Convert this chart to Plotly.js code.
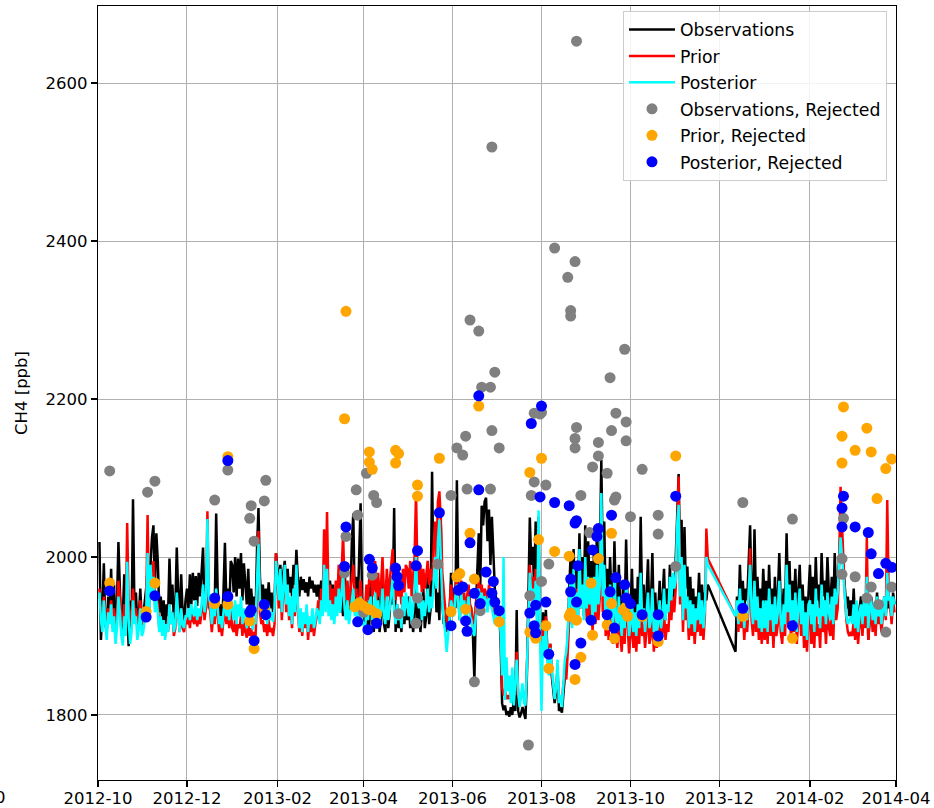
<!DOCTYPE html>
<html>
<head>
<meta charset="utf-8">
<script src="https://cdn.plot.ly/plotly-3.0.1.min.js"></script>
<style>html,body{margin:0;padding:0;background:#fff;}#chart{width:934px;height:808px;}</style>
</head>
<body>
<div id="chart"></div>
<script>
// Months covered; each row of the series tables below holds daily values (day 1, 2, ...) for that month.
const months = ['2012-10','2012-11','2012-12','2013-01','2013-02','2013-03','2013-04','2013-05','2013-06',
  '2013-07','2013-08','2013-09','2013-10','2013-11','2013-12','2014-01','2014-02','2014-03'];

const obsDaily = [
  [null,2019,1895,1930,1992,1915,1905,1950,1930,1985,1910,1965,1900,1940,2019,1960,1905,1925,1978,1900,1935,1887,1945,1910,2073,1930,1955,1915,1925,1960,1920],
  [1925,1940,1960,1985,1945,1990,2025,2040,1960,2030,1995,1930,1950,1920,1945,1910,1940,1925,1998,1940,1965,1920,1935,2012,1950,1925,1978,1930,1920,1945],
  [1960,1935,1978,1940,1980,1945,1976,1938,1980,1950,1975,2012,1930,1960,1995,1935,1945,1920,1950,1935,2055,1960,1925,1940,1915,1955,2018,1940,1960,1930,1995],
  [1990,1955,2000,1950,1998,1960,2005,1945,1992,1970,1940,1985,1930,1960,1935,1950,1925,2010,2062,1975,1945,1965,1935,1960,1940,1968,1935,1955,1930,1945,2005],
  [1985,1960,1990,1950,1980,1995,1960,1985,1955,1975,1950,1990,1965,2009,1970,1950,1975,1958,1972,1955,1968,1950,1975,1960,1970,1955,1965,1950],
  [1965,1945,1970,1950,1975,1955,1985,1945,1970,1950,1965,1940,1960,1935,1958,1930,1950,1925,1990,1935,1960,1920,1945,2020,2055,1940,1975,1930,2000,2068,1950],
  [1930,1910,1945,1905,1915,1985,1920,1905,1935,1910,1960,1905,1925,1990,1915,1905,1950,1910,1930,1975,1940,2062,1905,1940,1910,1925,1905,1950,1915,1935],
  [1920,1950,1910,1935,1905,1925,1985,1915,1940,1905,1930,1960,1910,1925,1975,1915,1935,2108,1960,2000,1930,1955,1920,2040,1945,1915,1925,1905,1935,1920,1980],
  [1925,1960,1935,2097,1950,1920,1965,1930,1950,1915,1940,1960,1935,1925,1900,1845,1935,1985,2030,1960,2065,2040,2070,2075,2020,2060,1990,2051,2010,1960],
  [1945,1920,1935,1890,1815,1806,1812,1800,1805,1798,1810,1800,1820,1805,1933,1805,1797,1802,1810,1800,1795,1850,1950,2050,1990,2013,1960,2045,1930,2051,1900],
  [1870,1930,1900,1933,1880,1855,1890,1850,1830,1815,1828,1860,1805,1810,1803,1825,1850,1880,1895,1960,2003,1920,2010,1950,1995,1940,2030,1960,2000,1950,2040],
  [1950,2020,1960,1995,1930,2010,1945,2035,1960,2000,2123,1990,2045,1940,1985,1935,2000,1950,1930,2020,1945,1920,1990,1935,1915,1970,1925,2022,1940,1910],
  [1930,1985,1915,1960,1905,1975,1920,2051,1935,1965,1910,1950,1997,1920,1940,2005,1915,1955,1905,1930,1970,1915,1945,1985,1920,1960,1930,1990,1940,1975,1945],
  [2000,2060,2105,1985,2047,1940,2038,1960,1988,1930,1975,1920,1960,1915,1950,1935,1980,1925,1965,1930,1955,1945,1965],
  [null,null,null,null,null,null,null,null,null,null,null,1880,1950,1925,1990,1940,1970,1930,1960,1945,1985,2040,1950,1930,2035,1945,1975,1935,1960,1930,1985],
  [1940,1970,1925,1990,1935,1960,1920,1975,1930,1950,2005,1940,1925,1960,1935,2030,1950,1995,1930,1970,1940,1985,1925,1955,1990,1935,1965,1920,1950,1915,1960],
  [1990,1940,1975,1925,2000,1945,1965,1930,2005,1950,1970,1935,2000,1955,1940,1975,1930,2005,1950,1960,1990,2034,2010,1985,1960,1935,1950,1925],
  [1945,1920,1960,1915,1940,1905,1935,1950,1915,1945,1925,1960,1895,1930,1950,1920,1940,1910,1955,1925,1945,1915,1935,1950,1925,1960,1935,1945,1920,1955,1940]
];

const priorDaily = [
  [null,1960,1930,1925,1950,1930,1915,1935,1925,1945,1920,1935,1910,1925,1970,1950,1920,1915,1940,1915,2043,1940,1915,1925,1960,1930,1935,1915,1920,1945,1915],
  [1915,1925,1935,2053,1930,1985,1960,1995,1940,1950,1940,1910,1925,1905,1920,1900,1915,1905,1940,1915,1930,1900,1910,1950,1925,1905,1935,1910,1905,1920],
  [1915,1925,1910,1930,1920,1915,1935,1912,1925,1915,1930,1960,1920,1935,2058,1940,1930,1905,1925,1915,1950,1930,1905,1915,1900,1920,1935,1915,1930,1910,1935],
  [1910,1905,1920,1900,1915,1910,1925,1900,1920,1905,1898,1915,1900,1910,1895,1905,1900,1950,2033,1930,1915,1920,1905,1915,1900,1920,1905,1910,1900,1915,2005],
  [1965,1935,1975,1920,1955,1980,1930,1960,1920,1945,1910,1955,1925,1985,1935,1905,1930,1900,1925,1910,1935,1895,1920,1905,1930,1900,1915,1925],
  [1945,1925,1960,1940,2035,1950,2057,1945,1965,1940,1960,1935,1970,1945,1990,1950,1980,2030,1960,1945,1970,1940,1955,1975,1990,1950,1960,1935,1945,1970,1940],
  [1940,1930,1965,1945,1975,1990,1950,1960,1995,1940,1980,1950,1965,2000,1955,1945,1985,1950,1970,1990,2010,1960,1945,1975,1950,1965,1940,1985,1955,1990],
  [1985,1960,1995,1950,1970,2000,2081,1975,1965,1990,1955,1985,1960,1975,1995,1965,1985,1970,2010,2045,2000,2070,2083,2047,1980,1950,1935,1920,1910,1940,1965],
  [1945,1935,1960,1975,1950,1935,1970,1945,1955,1925,1950,1965,1940,1935,1920,1915,1940,1955,1970,1950,1965,1945,1960,1955,1940,1965,1950,1945,1935,1925],
  [1940,1930,1935,1910,1835,1825,1830,1820,1825,1820,1830,1822,1835,1825,1880,1825,1818,1822,1830,1820,1815,1860,1930,1990,1960,1975,1940,1985,1920,2010,1900],
  [1880,1920,1895,1925,1880,1860,1890,1855,1840,1825,1835,1850,1820,1825,1815,1840,1850,1845,1880,1930,1960,1915,1975,1935,1960,1920,1990,1935,1960,1925,1990],
  [1920,1960,1925,1950,1905,1960,1915,1970,1920,1950,2050,1930,1975,1900,1940,1895,1950,1910,1890,1965,1905,1885,1930,1900,1880,1920,1890,1955,1905,1878],
  [1900,1925,1885,1910,1880,1920,1890,1955,1900,1915,1885,1905,1930,1890,1900,1935,1880,1910,1885,1895,1920,1890,1905,1930,1895,1915,1905,1945,1920,1950,1930],
  [1960,2050,2102,1940,1990,1905,1970,1920,1935,1895,1930,1900,1925,1890,1920,1905,1940,1900,1930,1895,1925,2036,1998],
  [null,null,null,null,null,null,null,null,null,null,null,1925,1935,1905,1950,1910,1930,1895,1925,1905,1940,2011,1920,1900,1960,1905,1935,1895,1920,1890,1935],
  [1895,1930,1890,1950,1900,1925,1885,1935,1900,1915,1960,1905,1890,1925,1900,1980,1915,1955,1895,1930,1905,1945,1890,1920,1950,1900,1930,1885,1915,1880,1925],
  [1925,1890,1920,1885,1940,1900,1915,1885,1945,1905,1925,1890,1935,1910,1900,1930,1895,1950,1920,1935,1990,2089,2040,1985,1950,1920,1905,1900],
  [1905,1900,1920,1895,1935,1890,1915,1925,1900,1930,1910,2025,1895,1920,1935,1905,1930,1900,1940,1915,1930,1905,1925,1945,1920,2072,1950,1940,1915,1945,1930]
];

const postDaily = [
  [null,1955,1920,1905,1945,1915,1895,1930,1915,1940,1905,1925,1890,1910,1950,1930,1900,1888,1925,1900,1994,1920,1890,1905,1945,1915,1925,1895,1910,1935,1900],
  [1905,1920,1925,2005,1920,1990,1955,1975,1930,1945,1930,1905,1925,1900,1920,1895,1915,1905,1940,1915,1930,1905,1915,1955,1925,1905,1935,1915,1910,1925],
  [1925,1935,1920,1940,1930,1925,1945,1920,1935,1925,1940,1965,1930,1945,2048,1950,1940,1915,1935,1925,1960,1940,1915,1925,1910,1930,1945,1925,1940,1920,1950],
  [1935,1920,1945,1915,1940,1925,1950,1915,1935,1920,1910,1930,1915,1925,1908,1920,1915,1970,2017,1945,1930,1940,1920,1935,1915,1940,1920,1930,1918,1935,1995],
  [1975,1945,1985,1930,1960,1990,1940,1965,1925,1950,1915,1960,1930,1990,1940,1910,1935,1905,1930,1915,1940,1905,1925,1915,1935,1910,1920,1935],
  [1930,1915,1945,1925,1990,1930,1985,1925,1945,1920,1940,1915,1950,1925,1960,1930,1955,1980,1935,1920,1945,1915,1930,1950,1960,1925,1940,1915,1925,1950,1920],
  [1915,1905,1935,1920,1940,1950,1920,1930,1955,1910,1945,1920,1930,1960,1925,1915,1950,1920,1935,1955,1975,1930,1915,1940,1920,1935,1910,1950,1925,1955],
  [1940,1925,1950,1915,1935,1960,2000,1945,1935,1955,1920,1945,1925,1940,1960,1930,1950,1935,1975,2000,1960,2020,2047,1990,1945,1920,1905,1880,1900,1920,1945],
  [1935,1925,1950,1965,1940,1920,1955,1930,1945,1915,1935,1950,1925,1920,1905,1900,1925,1945,1960,1940,1955,1935,1950,1945,1930,1955,1940,1935,1925,1915],
  [1930,1920,1925,1905,1850,2000,1819,1873,1830,1850,1815,1860,1812,1840,1870,1830,1810,1825,1840,1815,1812,1860,1920,1980,1950,1960,1930,1970,1915,2059,1900],
  [1805,1900,1880,1915,1870,1850,1885,1860,1840,1820,1835,1870,1815,1825,1810,1835,1870,1880,1905,1950,1970,1910,1985,1930,1955,1915,2010,1935,1965,1920,2000],
  [1935,1975,1940,1965,1920,1975,1930,1990,1940,1965,2081,1950,1990,1915,1955,1910,1965,1930,1910,1980,1925,1905,1950,1920,1900,1940,1910,1970,1925,1900],
  [1915,1945,1905,1930,1900,1940,1910,1980,1920,1935,1905,1925,1955,1910,1920,1960,1905,1930,1905,1915,1945,1910,1925,1960,1920,1940,1930,1975,1945,1980,1960],
  [1970,2040,2066,1950,2000,1920,1990,1935,1950,1910,1945,1915,1940,1905,1935,1920,1955,1915,1945,1910,1935,2000,1990],
  [null,null,null,null,null,null,null,null,null,null,null,1925,1945,1915,1960,1925,1945,1910,1940,1920,1955,1990,1935,1915,1970,1920,1950,1910,1935,1905,1945],
  [1910,1945,1905,1960,1920,1940,1905,1950,1915,1930,1970,1920,1905,1940,1915,1990,1930,1965,1910,1945,1920,1955,1905,1935,1960,1915,1945,1900,1930,1895,1940],
  [1945,1915,1940,1905,1960,1925,1935,1910,1965,1925,1945,1915,1955,1930,1920,1950,1915,1960,1940,1955,1990,2025,2000,1970,1945,1925,1915,1920],
  [1925,1915,1940,1910,1945,1905,1930,1940,1915,1945,1925,1975,1910,1935,1945,1920,1940,1915,1950,1925,1940,1915,1935,1950,1925,1980,1945,1950,1925,1950,1940]
];

// Rejected points
const obsRejDates = ['2012-10-09','2012-11-04','2012-11-09','2012-12-20','2012-12-29','2013-01-13','2013-01-14','2013-01-16','2013-01-23','2013-01-24',
  '2013-03-19','2013-03-20','2013-03-27','2013-03-28','2013-04-01','2013-04-03','2013-04-07','2013-04-08','2013-04-10','2013-04-25',
  '2013-05-07','2013-05-08','2013-05-22','2013-05-31','2013-06-04','2013-06-08','2013-06-10','2013-06-11','2013-06-13','2013-06-16',
  '2013-06-19','2013-06-20','2013-06-21','2013-06-27','2013-06-27','2013-06-28','2013-06-28','2013-06-30','2013-07-03','2013-07-23',
  '2013-07-24','2013-07-25','2013-07-27','2013-07-27','2013-07-31','2013-08-01','2013-08-01','2013-08-04','2013-08-06','2013-08-10',
  '2013-08-19','2013-08-21','2013-08-21','2013-08-24','2013-08-24','2013-08-24','2013-08-25','2013-08-25','2013-08-28','2013-09-03',
  '2013-09-05','2013-09-09','2013-09-09','2013-09-15','2013-09-17','2013-09-18','2013-09-20','2013-09-21','2013-09-21','2013-09-27',
  '2013-09-28','2013-09-28','2013-10-01','2013-10-09','2013-10-20','2013-10-20','2013-11-01','2013-12-17','2014-01-20','2014-02-23',
  '2014-02-23','2014-02-24','2014-03-04','2014-03-12','2014-03-15','2014-03-20','2014-03-25','2014-03-29'];
const obsRejValues = [2109,2082,2096,2072,2110,2049,2065,2020,2071,2097,
  1980,2026,2085,2053,1930,2106,1977,2078,2069,1928,
  1916,1948,1991,2078,2138,2129,2153,2086,2300,1842,
  2286,1932,2215,2215,2086,2160,2519,2234,2138,1762,
  1951,2078,2182,2095,2181,2183,1969,2091,1991,2391,
  2354,2312,2305,2374,2150,2138,2164,2653,2078,2031,
  2114,2128,2145,2106,2227,2160,2072,2076,2182,2263,
  2171,2147,2051,2111,2053,2029,1988,2069,2048,1978,
  1998,2049,1975,1948,1962,1940,1905,1962];

const priorRejDates = ['2012-10-09','2012-11-03','2012-11-09','2012-12-20','2012-12-29','2012-12-29','2013-01-13','2013-01-16','2013-01-23','2013-03-19',
  '2013-03-20','2013-03-26','2013-03-29','2013-04-01','2013-04-04','2013-04-05','2013-04-05','2013-04-06','2013-04-07','2013-04-10',
  '2013-04-23','2013-04-23','2013-04-25','2013-05-08','2013-05-08','2013-05-23','2013-05-31','2013-06-04','2013-06-06','2013-06-10',
  '2013-06-13','2013-06-16','2013-06-19','2013-07-03','2013-07-24','2013-07-24','2013-07-28','2013-07-30','2013-08-01','2013-08-04',
  '2013-08-06','2013-08-10','2013-08-20','2013-08-20','2013-08-21','2013-08-24','2013-08-25','2013-08-28','2013-09-04','2013-09-05',
  '2013-09-09','2013-09-15','2013-09-18','2013-09-18','2013-09-20','2013-09-26','2013-09-28','2013-09-29','2013-10-09','2013-10-20',
  '2013-11-01','2013-12-17','2014-01-20','2014-02-23','2014-02-23','2014-02-24','2014-03-04','2014-03-12','2014-03-15','2014-03-19',
  '2014-03-25','2014-03-29'];
const priorRejValues = [1967,1931,1967,1941,1940,2127,1919,1884,1935,2175,
  2311,1937,1942,1938,1934,2133,2120,1933,2111,1928,
  2135,2119,2131,2091,2077,2125,1931,1975,1979,1934,
  2030,1972,2191,1918,2107,1905,1897,2022,2125,1913,
  1859,2007,2001,1925,1929,1845,1920,1873,1967,1901,
  1998,1914,2030,1941,1897,1933,1937,1925,1925,1893,
  2128,1925,1897,2119,2153,2190,2135,2163,2133,2074,
  2112,2124];

const postRejDates = ['2012-10-09','2012-11-03','2012-11-09','2012-12-20','2012-12-29','2012-12-29','2013-01-13','2013-01-14','2013-01-16','2013-01-23',
  '2013-01-24','2013-03-19','2013-03-20','2013-03-28','2013-04-04','2013-04-05','2013-04-07','2013-04-10','2013-04-23','2013-04-24',
  '2013-04-25','2013-05-07','2013-05-08','2013-05-23','2013-05-31','2013-06-05','2013-06-08','2013-06-10','2013-06-11','2013-06-13',
  '2013-06-16','2013-06-19','2013-06-19','2013-06-20','2013-06-24','2013-06-28','2013-06-29','2013-06-30','2013-07-03','2013-07-24',
  '2013-07-25','2013-07-27','2013-07-28','2013-07-28','2013-07-31','2013-08-01','2013-08-04','2013-08-06','2013-08-10','2013-08-20',
  '2013-08-21','2013-08-21','2013-08-24','2013-08-24','2013-08-25','2013-08-25','2013-08-26','2013-08-28','2013-09-04','2013-09-05',
  '2013-09-08','2013-09-09','2013-09-15','2013-09-17','2013-09-18','2013-09-20','2013-09-21','2013-09-27','2013-09-28','2013-10-01',
  '2013-10-09','2013-10-20','2013-10-20','2013-11-01','2013-12-17','2014-01-20','2014-02-23','2014-02-23','2014-02-24','2014-03-04',
  '2014-03-13','2014-03-15','2014-03-20','2014-03-25','2014-03-29'];
const postRejValues = [1957,1924,1951,1948,1950,2122,1930,1933,1894,1940,
  1927,1988,2038,1918,1908,1997,1986,1916,1986,1975,
  1964,1989,2008,2056,1913,1958,1962,1919,1906,2018,
  1954,2204,2085,1941,1981,1954,1969,1943,1932,1929,
  2169,1913,1904,1939,2076,2191,1943,1877,2069,2065,
  1972,1956,2043,1864,2046,1943,1989,1891,1920,2009,
  2026,2036,1927,1956,2053,1910,1974,1965,1948,1941,
  1927,1927,1900,2077,1935,1913,2038,2062,2077,2038,
  2031,2004,1979,1992,1987];

const xTickVals = ['2012-10-01','2012-12-01','2013-02-01','2013-04-01','2013-06-01','2013-08-01','2013-10-01','2013-12-01','2014-02-01','2014-04-01'];
const xTickText = ['2012-10','2012-12','2013-02','2013-04','2013-06','2013-08','2013-10','2013-12','2014-02','2014-04'];
const yTickVals = [1800, 2000, 2200, 2400, 2600];

function flatten(table) {
  const xs = [], ys = [];
  table.forEach((row, m) => {
    row.forEach((v, i) => {
      if (v === null) return;
      const d = String(i + 1).padStart(2, '0');
      xs.push(months[m] + '-' + d);
      ys.push(v);
    });
  });
  return {x: xs, y: ys};
}

const FONT = 'DejaVu Sans, Verdana, sans-serif';
const obs = flatten(obsDaily), prior = flatten(priorDaily), post = flatten(postDaily);

const traces = [
  {x: obs.x, y: obs.y, type: 'scatter', mode: 'lines', name: 'Observations', legendgroup: 'a',
   line: {color: '#000000', width: 2.5}},
  {x: prior.x, y: prior.y, type: 'scatter', mode: 'lines', name: 'Prior', legendgroup: 'b',
   line: {color: '#ff0000', width: 2.5}},
  {x: post.x, y: post.y, type: 'scatter', mode: 'lines', name: 'Posterior', legendgroup: 'c',
   line: {color: '#00ffff', width: 2.5}},
  {x: obsRejDates, y: obsRejValues, type: 'scatter', mode: 'markers', name: 'Observations, Rejected', legendgroup: 'd',
   marker: {color: '#808080', size: 11, line: {width: 0}}},
  {x: priorRejDates, y: priorRejValues, type: 'scatter', mode: 'markers', name: 'Prior, Rejected', legendgroup: 'e',
   marker: {color: '#ffa500', size: 11, line: {width: 0}}},
  {x: postRejDates, y: postRejValues, type: 'scatter', mode: 'markers', name: 'Posterior, Rejected', legendgroup: 'f',
   marker: {color: '#0000ff', size: 11, line: {width: 0}}}
];

const layout = {
  width: 934, height: 808,
  margin: {l: 98, r: 38, t: 6, b: 28, pad: 0},
  paper_bgcolor: '#ffffff', plot_bgcolor: '#ffffff',
  font: {family: FONT, size: 16.5, color: '#000000'},
  showlegend: true,
  legend: {
    x: 0.9887, xanchor: 'right', y: 0.994, yanchor: 'top',
    bgcolor: 'rgba(255,255,255,0.85)', bordercolor: '#cccccc', borderwidth: 1,
    font: {family: FONT, size: 17.3, color: '#000000'},
    traceorder: 'grouped', tracegroupgap: 1, itemwidth: 46
  },
  xaxis: {
    type: 'date', range: ['2012-10-01', '2014-04-01'],
    tickmode: 'array', tickvals: xTickVals, ticktext: xTickText,
    showgrid: true, gridcolor: '#b0b0b0', gridwidth: 1,
    showline: true, linecolor: '#000000', linewidth: 1.3, mirror: true,
    ticks: 'outside', ticklen: 6, tickwidth: 1.3, tickcolor: '#000000',
    ticklabelstandoff: -3,
    tickfont: {family: FONT, size: 16.5, color: '#000000'},
    zeroline: false, automargin: false
  },
  yaxis: {
    range: [1717.7, 2697.5],
    tickmode: 'array', tickvals: yTickVals, ticktext: yTickVals.map(String),
    showgrid: true, gridcolor: '#b0b0b0', gridwidth: 1,
    showline: true, linecolor: '#000000', linewidth: 1.3, mirror: true,
    ticks: 'outside', ticklen: 6, tickwidth: 1.3, tickcolor: '#000000',
    tickfont: {family: FONT, size: 16.5, color: '#000000'},
    title: {text: 'CH4 [ppb]', font: {family: FONT, size: 16.5, color: '#000000'}, standoff: 13},
    zeroline: false, automargin: false
  },
  annotations: [
    {text: '0', xref: 'paper', yref: 'paper', x: -0.1228, y: -0.022, xanchor: 'center', yanchor: 'middle',
     showarrow: false, font: {family: FONT, size: 16.5, color: '#000000'}}
  ]
};

Plotly.newPlot('chart', traces, layout, {staticPlot: true, displayModeBar: false});
</script>
</body>
</html>
